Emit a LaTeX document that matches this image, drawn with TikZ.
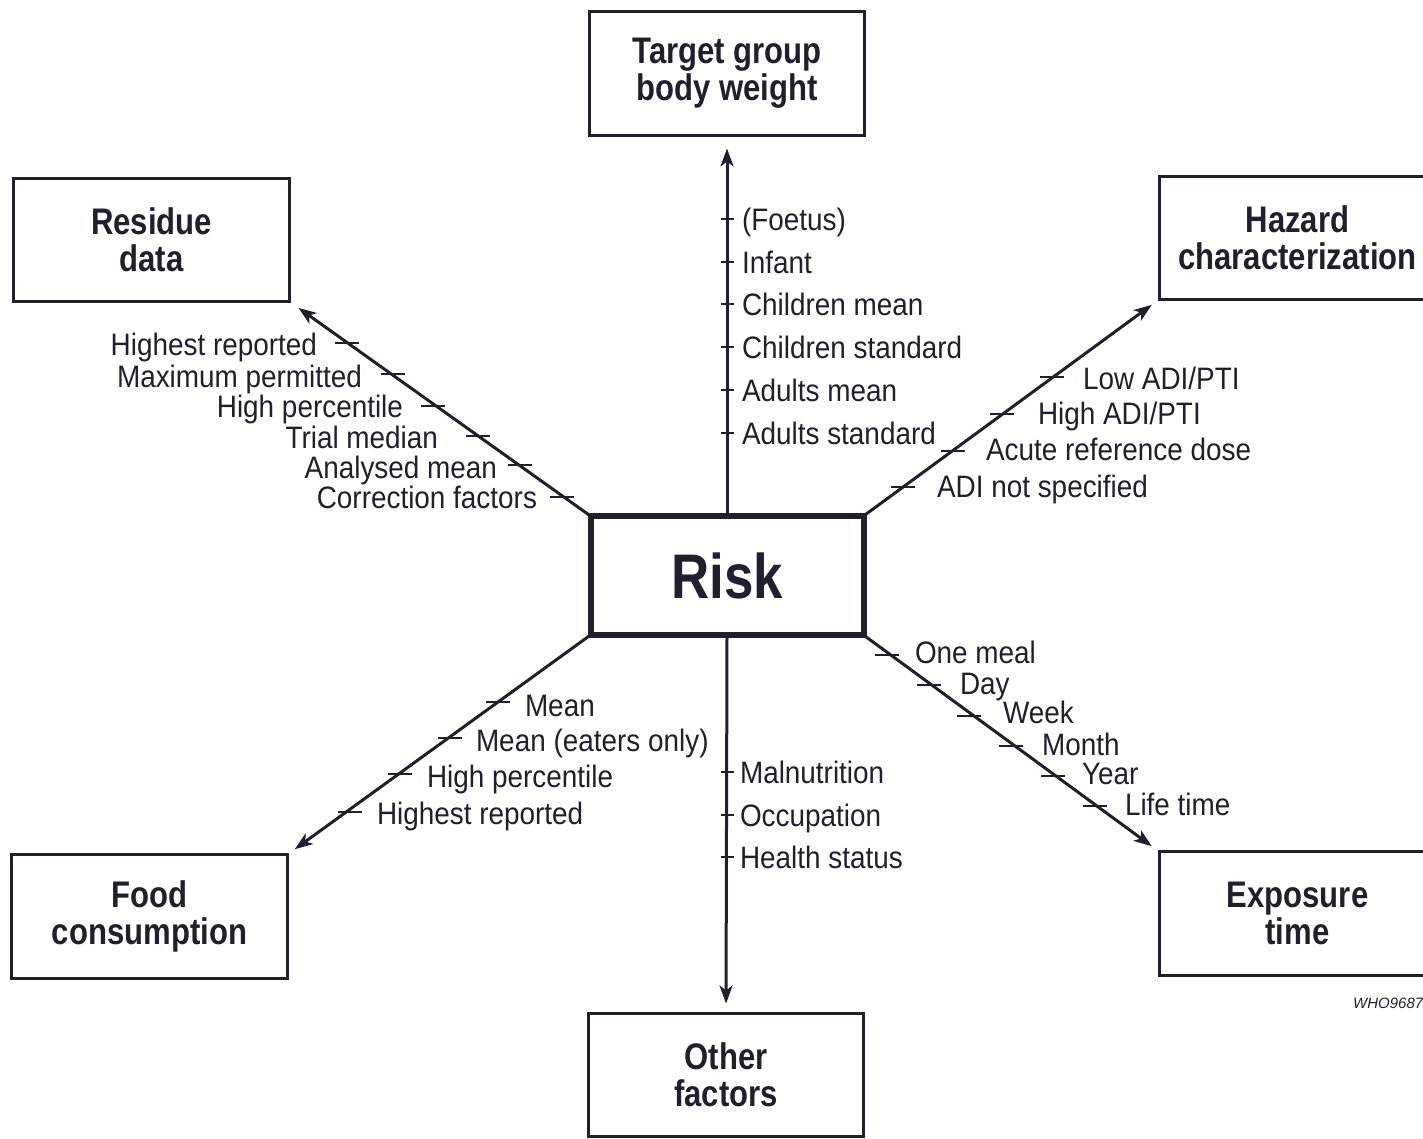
\documentclass[tikz,border=0pt]{standalone}
\usepackage{fontspec}
\setmainfont{Liberation Sans}
\newfontfamily\labfont[FakeStretch=0.9]{Liberation Sans}
\newfontfamily\boxfont[FakeStretch=0.84]{Liberation Sans}
\usetikzlibrary{arrows.meta}
\definecolor{ink}{RGB}{32,32,45}
\begin{document}
\begin{tikzpicture}[x=1pt,y=-1pt,
  boxnode/.style={draw=ink,line width=3pt,inner sep=0pt,outer sep=0pt,align=center,text=ink,
    font=\boxfont\bfseries\fontsize{37}{37}\selectfont},
  arr/.style={draw=ink,line width=3pt,-{Stealth[length=18pt,width=13pt,inset=5pt]}},
  lbl/.style={text=ink,inner sep=0pt,outer sep=0pt,font=\labfont\fontsize{31}{31}\selectfont},
  tickmark/.style={draw=ink,line width=2.5pt}]
\clip (0,0) rectangle (1423,1138);
\fill[white] (0,0) rectangle (1423,1138);

% boxes
\node[boxnode,minimum width=275pt,minimum height=124pt] (target) at (727,73.5) {Target group\\body weight};
\node[boxnode,minimum width=276pt,minimum height=123pt] (residue) at (151.5,240) {Residue\\data};
\node[boxnode,minimum width=277pt,minimum height=123pt] (hazard) at (1297.5,238) {Hazard\\characterization};
\node[boxnode,line width=6pt,minimum width=273pt,minimum height=119pt,font=\boxfont\bfseries\fontsize{63}{63}\selectfont] (risk) at (727,575.5) {Risk};
\node[boxnode,minimum width=276pt,minimum height=124pt] (food) at (149.5,916.5) {Food\\consumption};
\node[boxnode,minimum width=277pt,minimum height=124pt] (exposure) at (1297.5,913.5) {Exposure\\time};
\node[boxnode,minimum width=275pt,minimum height=123pt] (other) at (726,1075) {Other\\factors};

% connectors
\draw[arr,shorten >=13pt] (risk.north) -- (target.south);
\draw[arr,shorten >=9pt] (risk.north east) -- (hazard.south west);
\draw[arr,shorten >=11pt] (risk.north west) -- (residue.south east);
\draw[arr,shorten >=9pt] (risk.south west) -- (food.north east);
\draw[arr,shorten >=9pt] (risk.south east) -- (exposure.north west);
\draw[arr,shorten >=10pt] (risk.south) -- (other.north);

% target group axis
\foreach \y in {219,262,304,347,390,433} \draw[tickmark] (720.5,\y) -- (733.5,\y);
\node[lbl,anchor=base west] (t1) at (742,230) {(Foetus)};
\node[lbl,anchor=base west] (t2) at (742,273) {Infant};
\node[lbl,anchor=base west] (t3) at (742,315) {Children mean};
\node[lbl,anchor=base west] (t4) at (742,358) {Children standard};
\node[lbl,anchor=base west] (t5) at (742,401) {Adults mean};
\node[lbl,anchor=base west] (t6) at (742,444) {Adults standard};

% other factors axis
\foreach \y in {772,815,857} \draw[tickmark] (720.5,\y) -- (733.5,\y);
\node[lbl,anchor=base west] (o1) at (740,783) {Malnutrition};
\node[lbl,anchor=base west] (o2) at (740,826) {Occupation};
\node[lbl,anchor=base west] (o3) at (740,868) {Health status};

% hazard axis
\foreach \x/\y in {1052/377,1002/414,953/451,903/487} \draw[tickmark] (\x-12,\y) -- (\x+12,\y);
\node[lbl,anchor=base west] (h1) at (1083,389) {Low ADI/PTI};
\node[lbl,anchor=base west] (h2) at (1038,424) {High ADI/PTI};
\node[lbl,anchor=base west] (h3) at (986,460) {Acute reference dose};
\node[lbl,anchor=base west] (h4) at (937,497) {ADI not specified};

% residue axis
\foreach \x/\y in {347/343,393/374,433/406,478/436,520/465,562/497} \draw[tickmark] (\x-12,\y) -- (\x+12,\y);
\node[lbl,anchor=base east] (r1) at (317,355) {Highest reported};
\node[lbl,anchor=base east] (r2) at (362,387) {Maximum permitted};
\node[lbl,anchor=base east] (r3) at (403,417) {High percentile};
\node[lbl,anchor=base east] (r4) at (438,448) {Trial median};
\node[lbl,anchor=base east] (r5) at (497,478) {Analysed mean};
\node[lbl,anchor=base east] (r6) at (537,508) {Correction factors};

% food axis
\foreach \x/\y in {498/702,450/738,400/774,350/812} \draw[tickmark] (\x-12,\y) -- (\x+12,\y);
\node[lbl,anchor=base west] (f1) at (525,716) {Mean};
\node[lbl,anchor=base west] (f2) at (476,751) {Mean (eaters only)};
\node[lbl,anchor=base west] (f3) at (427,787) {High percentile};
\node[lbl,anchor=base west] (f4) at (377,824) {Highest reported};

% exposure axis
\foreach \x/\y in {887/655,929/685,969/716,1011/746,1053/776,1095/806} \draw[tickmark] (\x-12,\y) -- (\x+12,\y);
\node[lbl,anchor=base west] (e1) at (915,663) {One meal};
\node[lbl,anchor=base west] (e2) at (960,694) {Day};
\node[lbl,anchor=base west] (e3) at (1003,723) {Week};
\node[lbl,anchor=base west] (e4) at (1042,755) {Month};
\node[lbl,anchor=base west] (e5) at (1082,784) {Year};
\node[lbl,anchor=base west] (e6) at (1125,815) {Life time};

\node[text=ink,inner sep=0pt,anchor=base west,font=\itshape\fontsize{15}{15}\selectfont] (who) at (1353,1008) {WHO9687};
\end{tikzpicture}
\end{document}
